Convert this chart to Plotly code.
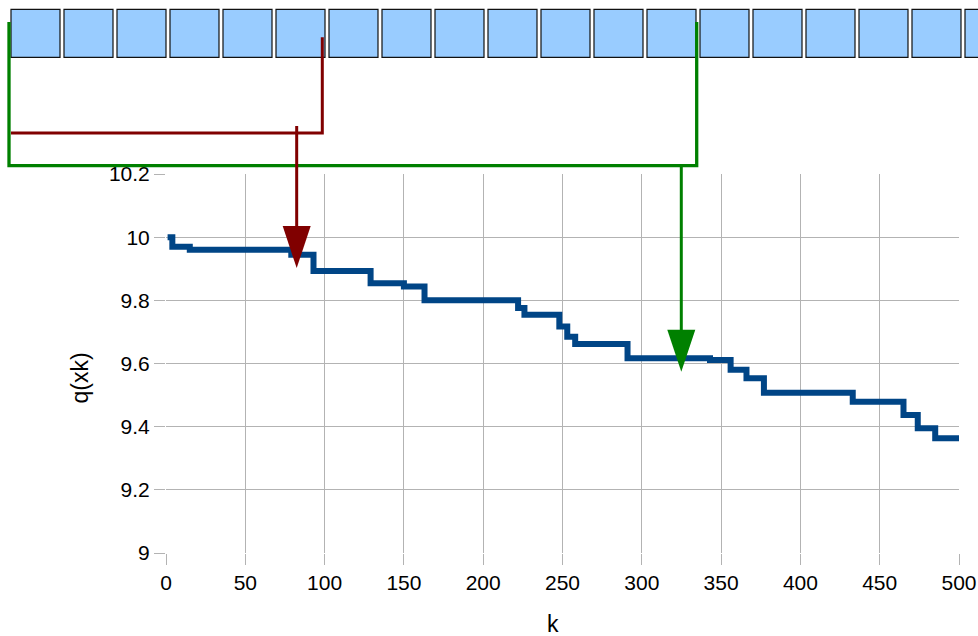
import plotly.graph_objects as go

# ---- data ----
step_k = [1, 4, 15, 79, 93, 129, 150, 163, 222, 226, 248, 253, 258, 291, 343, 356, 366, 377, 433, 465, 474, 485, 500]
step_q = [10.0, 9.970, 9.960, 9.944, 9.893, 9.854, 9.844, 9.800, 9.776, 9.754, 9.717, 9.685, 9.662,
          9.617, 9.611, 9.580, 9.553, 9.507, 9.479, 9.437, 9.395, 9.363, 9.363]
x_ticks = [0, 50, 100, 150, 200, 250, 300, 350, 400, 450, 500]
y_ticks = [9, 9.2, 9.4, 9.6, 9.8, 10, 10.2]
y_tick_text = ["9", "9.2", "9.4", "9.6", "9.8", "10", "10.2"]
arrow_targets_k = [82.4, 324.9]
arrow_targets_q = [9.902, 9.574]
n_boxes = 19

# ---- geometry helpers ----
W, H = 978, 636
L, R, T, B = 166, 959, 174, 553
X_RANGE = [0, 500]
Y_RANGE = [9, 10.2]


def px(x):
    return (x - L) / (R - L)


def py(y):
    return (B - y) / (B - T)


def kx(k):
    return (k - X_RANGE[0]) / (X_RANGE[1] - X_RANGE[0])


def qy(q):
    return (q - Y_RANGE[0]) / (Y_RANGE[1] - Y_RANGE[0])


fig = go.Figure()
fig.add_trace(go.Scatter(
    x=step_k, y=step_q, mode="lines", line=dict(color="#004586", width=6, shape="hv"),
    showlegend=False, hoverinfo="skip"))

shapes = []
# boxes on top
for i in range(n_boxes):
    x0 = 11 + 53 * i
    shapes.append(dict(type="rect", xref="paper", yref="paper",
                       x0=px(x0), x1=px(x0 + 49), y0=py(57.3), y1=py(9.3),
                       fillcolor="#99ccff", line=dict(color="#111111", width=1.2), layer="above"))

# red connector
shapes.append(dict(type="path", xref="paper", yref="paper",
                   path=f"M {px(11)},{py(133)} L {px(322.3)},{py(133)} L {px(322.3)},{py(37.3)}",
                   line=dict(color="#800000", width=3), layer="above"))
# green connector
shapes.append(dict(type="path", xref="paper", yref="paper",
                   path=f"M {px(9)},{py(22)} L {px(9)},{py(165.7)} L {px(696.7)},{py(165.7)} L {px(696.7)},{py(22)}",
                   line=dict(color="#008000", width=3.3), layer="above"))

arrow_specs = [("#800000", 126), ("#008000", 165.7)]
head_w, head_h = 28, 42
for (color, start_y), k, q in zip(arrow_specs, arrow_targets_k, arrow_targets_q):
    tx = kx(k)
    ty = qy(q)
    tip_px_x = L + tx * (R - L)
    tip_px_y = B - ty * (B - T)
    shapes.append(dict(type="line", xref="paper", yref="paper",
                       x0=tx, x1=tx, y0=py(start_y), y1=py(tip_px_y - head_h + 4),
                       line=dict(color=color, width=3), layer="above"))
    shapes.append(dict(type="path", xref="paper", yref="paper",
                       path=(f"M {px(tip_px_x - head_w / 2)},{py(tip_px_y - head_h)} "
                             f"L {px(tip_px_x + head_w / 2)},{py(tip_px_y - head_h)} "
                             f"L {tx},{ty} Z"),
                       fillcolor=color, line=dict(color=color, width=0), layer="above"))

font = dict(family="Liberation Sans, Arial, sans-serif", size=21, color="#000000")
title_font = dict(family="Liberation Sans, Arial, sans-serif", size=23, color="#000000")

fig.update_layout(
    width=W, height=H,
    margin=dict(l=L, r=W - R, t=T, b=H - B, pad=0, autoexpand=False),
    paper_bgcolor="white", plot_bgcolor="white",
    font=font,
    shapes=shapes,
    showlegend=False,
    annotations=[
        dict(text="k", xref="paper", yref="paper", x=px(553), y=py(624),
             showarrow=False, xanchor="center", yanchor="middle", font=title_font),
        dict(text="q(xk)", xref="paper", yref="paper", x=px(79), y=py(378.5), textangle=-90,
             showarrow=False, xanchor="center", yanchor="middle", font=title_font),
    ],
)
fig.update_xaxes(range=X_RANGE, tickvals=x_ticks, ticktext=[str(v) for v in x_ticks],
                 showgrid=True, gridcolor="#b3b3b3", gridwidth=1, zeroline=False,
                 ticks="outside", ticklen=11, tickcolor="#b3b3b3", showline=False,
                 tickfont=font, automargin=False)
fig.update_yaxes(range=Y_RANGE, tickvals=y_ticks, ticktext=y_tick_text,
                 showgrid=True, gridcolor="#b3b3b3", gridwidth=1, zeroline=False,
                 ticks="outside", ticklen=11, tickcolor="#b3b3b3", showline=False,
                 tickfont=font, automargin=False)

fig.write_html("out.html", config={"displayModeBar": False})

# remove the default page margin so the figure sits at the window's top-left corner
with open("out.html", "r", encoding="utf-8") as f:
    html = f.read()
html = html.replace("<head>", "<head><style>html,body{margin:0;padding:0;overflow:hidden;}</style>", 1)
with open("out.html", "w", encoding="utf-8") as f:
    f.write(html)
